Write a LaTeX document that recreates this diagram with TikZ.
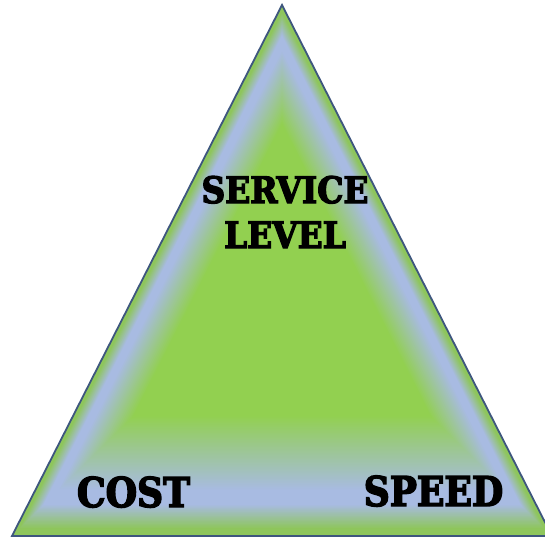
\documentclass[tikz,border=0pt]{standalone}
\usepackage{fontspec}
\newfontfamily\slabfont[FakeStretch=0.88, BoldFeatures={FakeBold=3.5}]{DejaVu Serif}
\newfontfamily\slabwide[FakeStretch=0.9, BoldFeatures={FakeBold=3.5}]{DejaVu Serif}
\usetikzlibrary{calc}
\definecolor{edgegreen}{RGB}{142,198,92}
\definecolor{bandblue}{RGB}{168,187,226}
\definecolor{coregreen}{RGB}{146,208,80}
\definecolor{outlinecol}{RGB}{62,86,126}
\begin{document}
\begin{tikzpicture}[x=1pt,y=1pt,
  lbl/.style={text=black, inner sep=0pt, outer sep=0pt},
  bigfont/.style={font=\slabfont\bfseries\fontsize{41}{49}\selectfont},
  topfont/.style={font=\slabwide\bfseries\fontsize{36.5}{45}\selectfont}]
\useasboundingbox (0,0) rectangle (545,538);
\fill[white] (0,0) rectangle (545,538);
\coordinate (A) at (282,533);
\coordinate (B) at (12,2);
\coordinate (C) at (552,2);
\coordinate (O) at (282,268);
\begin{scope}
\clip (0,0) rectangle (545,538);
\foreach \i in {0,...,110} {
  \pgfmathsetmacro\gt{\i/200}
  \pgfmathsetmacro\gs{1-\gt}
  \pgfmathsetmacro\gp{100*min(1,max(0,(\gt-0.025)/0.09))}
  \pgfmathsetmacro\gq{100*min(1,max(0,(\gt-0.17)/0.28))}
  \colorlet{mixa}{bandblue!\gp!edgegreen}
  \colorlet{mixb}{coregreen!\gq!mixa}
  \fill[mixb] ($(O)!\gs!(A)$) -- ($(O)!\gs!(B)$) -- ($(O)!\gs!(C)$) -- cycle;
}
\draw[outlinecol, line width=1.8pt, line join=miter] (A) -- (B) -- (C) -- cycle;
\end{scope}
\node[lbl, topfont, align=center] (service) at (285,326) {SERVICE\\LEVEL};
\node[lbl, bigfont, anchor=base] (cost) at (133.5,31) {COST};
\node[lbl, bigfont, anchor=base] (speed) at (433.5,32) {SPEED};
\end{tikzpicture}
\end{document}
